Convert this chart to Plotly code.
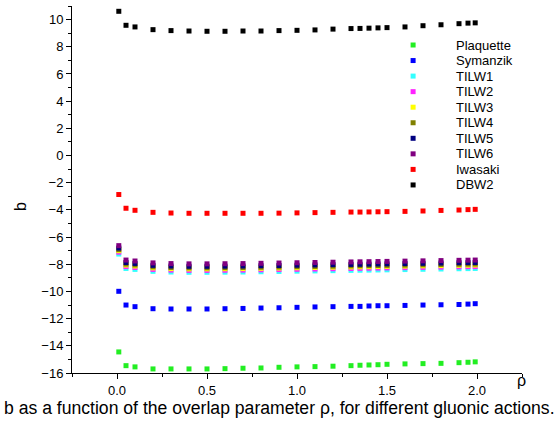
import plotly.graph_objects as go

rho = [0.01, 0.05, 0.1, 0.2, 0.3, 0.4, 0.5, 0.6, 0.7, 0.8, 0.9, 1.0, 1.1, 1.2,
       1.3, 1.35, 1.4, 1.45, 1.5, 1.6, 1.7, 1.8, 1.9, 1.95, 1.99]

series_names = ["Plaquette", "Symanzik", "TILW1", "TILW2", "TILW3", "TILW4",
                "TILW5", "TILW6", "Iwasaki", "DBW2"]
series_colors = ["#22ee22", "#0000ff", "#33ffff", "#ff22ff", "#ffff00", "#808000",
                 "#000080", "#800080", "#ff0000", "#000000"]

plaquette = [-14.45, -15.46, -15.55, -15.70, -15.70, -15.70, -15.70, -15.68, -15.65,
             -15.63, -15.58, -15.55, -15.53, -15.50, -15.46, -15.43, -15.41, -15.39,
             -15.36, -15.33, -15.31, -15.29, -15.24, -15.21, -15.18]
symanzik = [-9.99, -11.00, -11.12, -11.27, -11.29, -11.29, -11.29, -11.27, -11.25,
            -11.22, -11.20, -11.17, -11.14, -11.12, -11.10, -11.10, -11.07, -11.05,
            -11.05, -11.03, -11.00, -10.98, -10.96, -10.93, -10.90]
tilw1 = [-7.25, -8.31, -8.38, -8.52, -8.57, -8.59, -8.59, -8.58, -8.57, -8.55, -8.53,
         -8.51, -8.49, -8.47, -8.45, -8.44, -8.43, -8.42, -8.41, -8.39, -8.37, -8.35,
         -8.33, -8.32, -8.31]
tilw2 = [-7.11, -8.17, -8.24, -8.38, -8.43, -8.45, -8.45, -8.44, -8.43, -8.41, -8.39,
         -8.37, -8.35, -8.33, -8.31, -8.30, -8.29, -8.28, -8.27, -8.25, -8.23, -8.21,
         -8.19, -8.18, -8.17]
tilw3 = [-7.00, -8.06, -8.13, -8.27, -8.32, -8.34, -8.34, -8.33, -8.32, -8.30, -8.28,
         -8.26, -8.24, -8.22, -8.20, -8.19, -8.18, -8.17, -8.16, -8.14, -8.12, -8.10,
         -8.08, -8.07, -8.06]
tilw4 = [-6.92, -7.98, -8.05, -8.19, -8.24, -8.26, -8.26, -8.25, -8.24, -8.22, -8.20,
         -8.18, -8.16, -8.14, -8.12, -8.11, -8.10, -8.09, -8.08, -8.06, -8.04, -8.02,
         -8.00, -7.99, -7.98]
tilw5 = [-6.81, -7.87, -7.94, -8.08, -8.13, -8.15, -8.15, -8.14, -8.13, -8.11, -8.09,
         -8.07, -8.05, -8.03, -8.01, -8.00, -7.99, -7.98, -7.97, -7.95, -7.93, -7.91,
         -7.89, -7.88, -7.87]
tilw6 = [-6.63, -7.69, -7.76, -7.90, -7.95, -7.97, -7.97, -7.96, -7.95, -7.93, -7.91,
         -7.89, -7.87, -7.85, -7.83, -7.82, -7.81, -7.80, -7.79, -7.77, -7.75, -7.73,
         -7.71, -7.70, -7.69]
iwasaki = [-2.87, -3.88, -4.03, -4.18, -4.23, -4.25, -4.25, -4.25, -4.25, -4.25, -4.24,
           -4.22, -4.20, -4.18, -4.16, -4.16, -4.15, -4.14, -4.13, -4.11, -4.08, -4.04,
           -4.01, -3.98, -3.96]
dbw2 = [10.61, 9.58, 9.46, 9.26, 9.19, 9.16, 9.14, 9.14, 9.16, 9.16, 9.19, 9.21, 9.24,
        9.30, 9.34, 9.35, 9.37, 9.39, 9.41, 9.46, 9.55, 9.62, 9.70, 9.74, 9.76]

all_series = [plaquette, symanzik, tilw1, tilw2, tilw3, tilw4, tilw5, tilw6, iwasaki, dbw2]

x_tick_vals = [0.0, 0.5, 1.0, 1.5, 2.0]
x_tick_text = ["0.0", "0.5", "1.0", "1.5", "2.0"]
y_tick_vals = [-16, -14, -12, -10, -8, -6, -4, -2, 0, 2, 4, 6, 8, 10]

caption = "b as a function of the overlap parameter \u03c1, for different gluonic actions."

FONT = "Liberation Sans, Arial, sans-serif"

fig = go.Figure()
for name, color, vals in zip(series_names, series_colors, all_series):
    fig.add_trace(go.Scatter(
        x=rho, y=vals, mode="markers", name=name, showlegend=False,
        marker=dict(symbol="square", size=5, color=color, line=dict(width=0)),
        cliponaxis=False,
    ))

# Manual legend (compact row spacing like the original)
leg_marker_x = 0.758
leg_text_x = 0.849
leg_top_px = 45.0
leg_step_px = 15.55
plot_top = 6
plot_h = 423 - 6 - 50
leg_y = [1 - (leg_top_px + i * leg_step_px - plot_top) / plot_h for i in range(len(series_names))]

fig.add_trace(go.Scatter(
    x=[leg_marker_x] * len(series_names), y=leg_y, xaxis="x2", yaxis="y2",
    mode="markers", showlegend=False, hoverinfo="skip",
    marker=dict(symbol="square", size=5, color=series_colors, line=dict(width=0)),
))

annotations = []
for name, yy in zip(series_names, leg_y):
    annotations.append(dict(x=leg_text_x, y=yy, xref="paper", yref="paper", text=name,
                            showarrow=False, xanchor="left", yanchor="middle",
                            font=dict(size=13, color="black", family=FONT)))

annotations.append(dict(x=-0.1156, y=0.455, xref="paper", yref="paper", text="b",
                        textangle=-90, showarrow=False, xanchor="center", yanchor="middle",
                        font=dict(size=16, color="black", family=FONT)))
annotations.append(dict(x=0.998, y=-0.020, xref="paper", yref="paper", text="\u03c1",
                        showarrow=False, xanchor="center", yanchor="middle",
                        font=dict(size=16, color="black", family=FONT)))
annotations.append(dict(x=0.46, y=-0.096, xref="paper", yref="paper", text=caption,
                        showarrow=False, xanchor="center", yanchor="middle",
                        font=dict(size=17.6, color="black", family=FONT)))

fig.update_layout(
    width=557, height=423,
    margin=dict(l=72, r=35, t=6, b=50, pad=0),
    paper_bgcolor="white", plot_bgcolor="white",
    font=dict(family=FONT, size=13, color="black"),
    xaxis=dict(range=[-0.25, 2.25], tickmode="array", tickvals=x_tick_vals,
               ticktext=x_tick_text, ticks="outside", ticklen=5, tickwidth=1,
               tickcolor="black", showline=True, linecolor="black", linewidth=1,
               showgrid=False, zeroline=False, tickfont=dict(size=13),
               minor=dict(tick0=-0.25, dtick=0.25, ticks="outside", ticklen=3,
                          tickcolor="black", showgrid=False)),
    yaxis=dict(range=[-16, 11], tickmode="array", tickvals=y_tick_vals,
               ticks="outside", ticklen=5, tickwidth=1, tickcolor="black",
               showline=True, linecolor="black", linewidth=1, showgrid=False,
               zeroline=False, tickfont=dict(size=13),
               minor=dict(tick0=0, dtick=1, ticks="outside", ticklen=3,
                          tickcolor="black", showgrid=False)),
    xaxis2=dict(range=[0, 1], overlaying="x", anchor="y2", visible=False),
    yaxis2=dict(range=[0, 1], overlaying="y", anchor="x2", visible=False),
    annotations=annotations,
)

fig.write_html("out.html")
